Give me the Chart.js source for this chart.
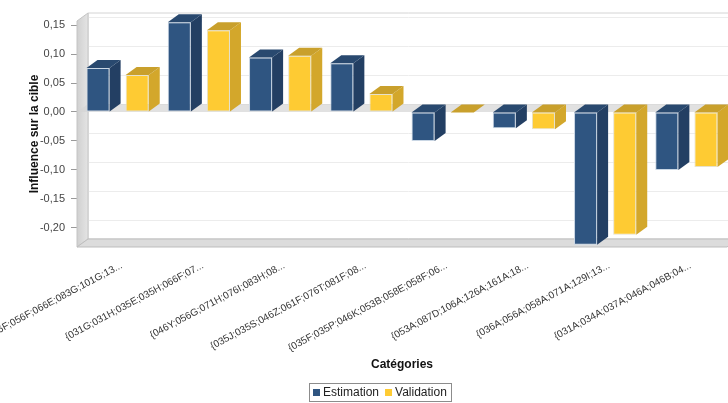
<!DOCTYPE html>
<html>
<head>
<meta charset="utf-8">
<script src="https://cdn.jsdelivr.net/npm/chart.js@4.4.0/dist/chart.umd.min.js"></script>
<style>
  html, body { margin: 0; padding: 0; background: #fff; }
</style>
</head>
<body>
<canvas id="influenceChart" width="728" height="403"></canvas>
<script>
// Data
const categories = [
  '{046F;056F;066E;083G;101G;13...',
  '{031G;031H;035E;035H;066F;07...',
  '{046Y;056G;071H;076I;083H;08...',
  '{035J;035S;046Z;061F;076T;081F;08...',
  '{035F;035P;046K;053B;058E;058F;06...',
  '{053A;087D;106A;126A;161A;18...',
  '{036A;056A;058A;071A;129I;13...',
  '{031A;034A;037A;046A;046B;04...'
];
const estimation = [0.076, 0.155, 0.094, 0.084, -0.050, -0.028, -0.229, -0.100];
const validation = [0.064, 0.141, 0.097, 0.031, -0.001, -0.030, -0.212, -0.095];
const seriesNames = ['Estimation', 'Validation'];
const yMin = -0.233;
const yMax = 0.157;
const yStep = 0.05;

// 3D look
const DX = 11;
const DY = -8;
const faces = [
  { front: '#2f5581', side: '#233f63', top: '#29496f', border: '#c9d6e4' },
  { front: '#fecb33', side: '#d3a72b', top: '#c9a02c', border: '#e6e1cc' }
];
const FONT = '"Liberation Sans", Arial, sans-serif';

function poly(ctx, pts, fill, stroke) {
  ctx.beginPath();
  ctx.moveTo(pts[0][0], pts[0][1]);
  for (let i = 1; i < pts.length; i++) ctx.lineTo(pts[i][0], pts[i][1]);
  ctx.closePath();
  if (fill) { ctx.fillStyle = fill; ctx.fill(); }
  if (stroke) { ctx.strokeStyle = stroke; ctx.lineWidth = 1; ctx.stroke(); }
}

const box3d = {
  id: 'box3d',
  beforeDatasetsDraw(chart) {
    const { ctx, chartArea: a, scales } = chart;
    const L = a.left, R = a.right, T = a.top, B = a.bottom;
    ctx.save();
    // back wall
    poly(ctx, [[L + DX, T + DY], [R + DX, T + DY], [R + DX, B + DY], [L + DX, B + DY]], '#ffffff', '#d4d4d4');
    // grid lines on the back wall
    ctx.strokeStyle = '#ececec';
    ctx.lineWidth = 1;
    scales.y.ticks.forEach(t => {
      const y = Math.round(scales.y.getPixelForValue(t.value) + DY) + 0.5;
      ctx.beginPath();
      ctx.moveTo(L + DX, y);
      ctx.lineTo(R + DX, y);
      ctx.stroke();
    });
    // left wall
    const g = ctx.createLinearGradient(L, 0, L + DX, 0);
    g.addColorStop(0, '#d0d0d0');
    g.addColorStop(1, '#e4e4e4');
    poly(ctx, [[L, T], [L + DX, T + DY], [L + DX, B + DY], [L, B]], g, '#c4c4c4');
    // floor
    poly(ctx, [[L, B], [L + DX, B + DY], [R + DX, B + DY], [R, B]], '#dcdcdc', '#bdbdbd');
    // zero plane
    const y0 = scales.y.getPixelForValue(0);
    poly(ctx, [[L, y0], [L + DX, y0 + DY], [R + DX, y0 + DY], [R, y0]], 'rgba(212,212,212,0.7)');
    ctx.restore();
  },
  afterDatasetsDraw(chart) {
    const { ctx } = chart;
    ctx.save();
    chart.data.datasets.forEach((ds, di) => {
      const f = faces[di];
      chart.getDatasetMeta(di).data.forEach(bar => {
        const p = bar.getProps(['x', 'y', 'base', 'width'], true);
        const l = p.x - p.width / 2, r = p.x + p.width / 2;
        const top = Math.min(p.y, p.base), bot = Math.max(p.y, p.base);
        poly(ctx, [[r, top], [r + DX, top + DY], [r + DX, bot + DY], [r, bot]], f.side);
        poly(ctx, [[l, top], [l + DX, top + DY], [r + DX, top + DY], [r, top]], f.top);
      });
    });
    ctx.restore();
  },
  afterDraw(chart) {
    const { ctx, chartArea: a, scales } = chart;
    ctx.save();
    // category labels
    ctx.font = '10px ' + FONT;
    ctx.fillStyle = '#333';
    ctx.textAlign = 'right';
    ctx.textBaseline = 'middle';
    categories.forEach((lab, i) => {
      const x = scales.x.getPixelForValue(i) + 4;
      ctx.save();
      ctx.translate(x, a.bottom + 18);
      ctx.rotate(-28 * Math.PI / 180);
      ctx.fillText(lab, 0, 0);
      ctx.restore();
    });
    // x axis title
    ctx.font = 'bold 12px ' + FONT;
    ctx.fillStyle = '#111';
    ctx.textAlign = 'center';
    ctx.fillText('Catégories', (a.left + a.right) / 2, 365);
    // legend with frame
    ctx.font = '12px ' + FONT;
    ctx.textAlign = 'left';
    const sq = 7, gap = 3, sep = 6, padX = 4;
    const widths = seriesNames.map(n => ctx.measureText(n).width);
    const total = padX * 2 + widths.reduce((s, w) => s + sq + gap + w, 0) + sep;
    let x = Math.round(380 - total / 2);
    const top = 383, h = 18, cy = top + h / 2 + 0.5;
    ctx.strokeStyle = '#8c8c8c';
    ctx.lineWidth = 1;
    ctx.strokeRect(x + 0.5, top + 0.5, Math.round(total), h);
    x += padX;
    seriesNames.forEach((n, i) => {
      ctx.fillStyle = faces[i].front;
      ctx.fillRect(x, Math.round(cy - sq / 2), sq, sq);
      x += sq + gap;
      ctx.fillStyle = '#222';
      ctx.fillText(n, x, cy);
      x += widths[i] + sep;
    });
    ctx.restore();
  }
};

const ctx = document.getElementById('influenceChart').getContext('2d');
new Chart(ctx, {
  type: 'bar',
  data: {
    labels: categories,
    datasets: [
      {
        label: seriesNames[0],
        data: estimation,
        backgroundColor: faces[0].front,
        borderColor: faces[0].border,
        borderWidth: 1,
        borderSkipped: false
      },
      {
        label: seriesNames[1],
        data: validation,
        backgroundColor: faces[1].front,
        borderColor: faces[1].border,
        borderWidth: 1,
        borderSkipped: false
      }
    ]
  },
  options: {
    responsive: false,
    animation: false,
    devicePixelRatio: 1,
    layout: { padding: { top: 21, right: 1, bottom: 156, left: 0 } },
    categoryPercentage: 0.963,
    barPercentage: 0.59,
    plugins: {
      legend: { display: false },
      tooltip: { enabled: false }
    },
    scales: {
      x: {
        ticks: { display: false },
        grid: { display: false },
        border: { display: false },
        afterFit: (s) => { s.height = 0; }
      },
      y: {
        min: yMin,
        max: yMax,
        ticks: {
          stepSize: yStep,
          includeBounds: false,
          padding: 6,
          color: '#444',
          font: { size: 11, family: FONT },
          callback: (v) => v.toFixed(2).replace('.', ',')
        },
        grid: { drawOnChartArea: false, drawTicks: true, tickLength: 6, color: '#9a9a9a' },
        border: { display: false },
        title: {
          display: true,
          text: 'Influence sur la cible',
          color: '#111',
          font: { size: 12, weight: 'bold', family: FONT },
          padding: { top: 27, bottom: 0 }
        },
        afterFit: (s) => { s.width = 77; }
      }
    }
  },
  plugins: [box3d]
});
</script>
</body>
</html>
